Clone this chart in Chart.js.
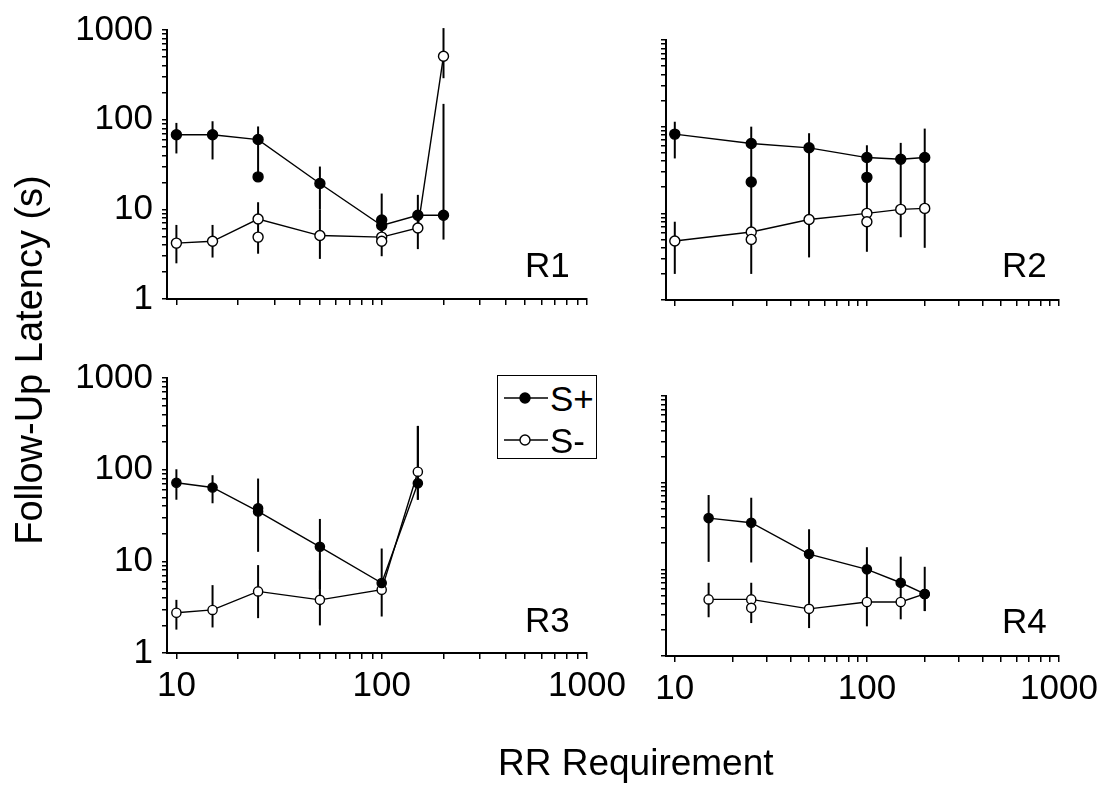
<!DOCTYPE html>
<html><head><meta charset="utf-8">
<script src="https://cdn.jsdelivr.net/npm/chart.js@4.4.1/dist/chart.umd.min.js"></script>
<style>
html,body{margin:0;padding:0;background:#fff;}
body{width:1106px;height:788px;position:relative;overflow:hidden;font-family:"Liberation Sans",Arial,sans-serif;color:#000;}
canvas.plot{position:absolute;left:0;top:0;}
.lbl{position:absolute;font-size:35px;line-height:35px;white-space:nowrap;}
#legend{position:absolute;left:497px;top:375px;width:100px;height:84px;border:1.5px solid #000;box-sizing:border-box;background:#fff;}
#legend .row{position:absolute;left:0;height:30px;width:100px;}
#legend svg{position:absolute;left:4px;top:0;}
#legend span{position:absolute;left:52px;top:-2px;font-size:35px;line-height:35px;}
</style></head><body>
<canvas class="plot" id="c1" width="1106" height="788"></canvas>
<canvas class="plot" id="c2" width="1106" height="788"></canvas>
<canvas class="plot" id="c3" width="1106" height="788"></canvas>
<canvas class="plot" id="c4" width="1106" height="788"></canvas>

<div class="lbl" style="left:525px;top:247px;">R1</div>
<div class="lbl" style="left:1002px;top:247px;">R2</div>
<div class="lbl" style="left:525px;top:602px;">R3</div>
<div class="lbl" style="left:1002px;top:603px;">R4</div>

<div id="legend">
  <div class="row" style="top:7px;"><svg width="48" height="30"><line x1="2" y1="15" x2="46" y2="15" stroke="#000" stroke-width="1.5"/><circle cx="23" cy="15" r="5" fill="#000" stroke="#000" stroke-width="1.4"/></svg><span>S+</span></div>
  <div class="row" style="top:49px;"><svg width="48" height="30"><line x1="2" y1="15" x2="46" y2="15" stroke="#000" stroke-width="1.5"/><circle cx="23" cy="15" r="5" fill="#fff" stroke="#000" stroke-width="1.4"/></svg><span>S-</span></div>
</div>

<div class="lbl" style="left:-171px;top:338px;width:400px;height:44px;line-height:44px;font-size:38px;text-align:center;transform:rotate(-90deg);">Follow-Up Latency (s)</div>
<div class="lbl" style="left:498px;top:744px;font-size:37px;line-height:37px;">RR Requirement</div>

<script>
// ---------- axis ticks ----------
const xTickValues = [10,20,30,40,50,60,70,80,90,100,200,300,400,500,600,700,800,900,1000];
const yTickValues = [1,2,3,4,5,6,7,8,9,10,20,30,40,50,60,70,80,90,100,200,300,400,500,600,700,800,900,1000];
const xTickLabels = [10,100,1000];
const yTickLabels = [1,10,100,1000];

// ---------- R1 ----------
const r1X    = [10,15,25,50,100,150,200];
const r1SpY  = [68,68,60,19.4,6.6,8.6,8.6];
const r1SpLo = [42,36,23,10,4.5,6,4.6];
const r1SpHi = [92,96,84,30,15,14.5,150];
const r1SmY  = [4.2,4.4,7.8,5.1,4.9,6.2,510];
const r1SmLo = [2.5,2.9,3.2,2.8,3.0,3.6,290];
const r1SmHi = [6.7,6.7,12,10,7,9,1050];
const r1SpExX = [25,100];
const r1SpExY = [23,7.6];
const r1SmExX = [25,100];
const r1SmExY = [4.9,4.4];

// ---------- R2 ----------
const r2X    = [10,25,50,100,150,200];
const r2SpY  = [82,64,57,44,42,44];
const r2SpLo = [43,23,30,26,11,11];
const r2SpHi = [114,100,84,61,65,95];
const r2SmY  = [4.8,6.1,8.5,10,11.1,11.4];
const r2SmLo = [2.0,2.0,3.1,3.6,5.3,4.0];
const r2SmHi = [8,23,30,26,11,11.4];
const r2SpExX = [25,100];
const r2SpExY = [23,26];
const r2SmExX = [25,100];
const r2SmExY = [5.0,8.0];

// ---------- R3 ----------
const r3X    = [10,15,25,50,100,150];
const r3SpY  = [72,64,35,14.4,5.8,71];
const r3SpLo = [47,43,12.7,5,4.9,47];
const r3SpHi = [101,87,80,29,13.8,300];
const r3SmY  = [2.75,2.95,4.7,3.8,4.9,95];
const r3SmLo = [1.8,1.9,2.4,2.0,2.5,47];
const r3SmHi = [3.8,5.5,9.1,8,5.8,300];
const r3SpExX = [25];
const r3SpExY = [38];
const r3SmExX = [];
const r3SmExY = [];

// ---------- R4 ----------
const r4X    = [15,25,50,100,150,200];
const r4SpY  = [39,34.5,15,10,7.0,5.2];
const r4SpLo = [12.2,12,4,4.2,4.2,3.3];
const r4SpHi = [72,67,29,18,14,10.7];
const r4SmY  = [4.5,4.5,3.5,4.2,4.2,5.2];
const r4SmLo = [2.8,2.4,2.1,2.2,2.65,3.3];
const r4SmHi = [7,7,4,4.2,4.2,5.2];
const r4SpExX = [];
const r4SpExY = [];
const r4SmExX = [25];
const r4SmExY = [3.6];

// ---------- rendering ----------
const FONT = '"Liberation Sans", Arial, sans-serif';
const W = 1106, H = 788, Y_W = 120, X_H = 60;

const errorBarPlugin = {
  id: 'errorBars',
  beforeDatasetsDraw(chart) {
    const {ctx} = chart;
    const xs = chart.scales.x, ys = chart.scales.y;
    ctx.save();
    ctx.strokeStyle = '#000';
    ctx.lineWidth = 2;
    chart.data.datasets.forEach(ds => {
      if (!ds.errLo) return;
      ds.data.forEach((p, j) => {
        const px = xs.getPixelForValue(p.x);
        ctx.beginPath();
        ctx.moveTo(px, ys.getPixelForValue(ds.errLo[j]));
        ctx.lineTo(px, ys.getPixelForValue(ds.errHi[j]));
        ctx.stroke();
      });
    });
    ctx.restore();
  }
};

function series(xs, ys, filled, r, showLine, lo, hi) {
  const d = {
    data: xs.map((x, i) => ({x: x, y: ys[i]})),
    borderColor: '#000', borderWidth: 1.4,
    pointRadius: r, pointBorderWidth: 1.4,
    pointBackgroundColor: filled ? '#000' : '#fff',
    pointBorderColor: '#000',
    showLine: showLine, tension: 0, clip: false, fill: false
  };
  if (lo) { d.errLo = lo; d.errHi = hi; }
  return d;
}

function makePanel(id, area, showY, showX, r, s) {
  const tickFont = {family: FONT, size: 35};
  new Chart(document.getElementById(id), {
    type: 'line',
    data: {datasets: [
      series(s.spExX, s.spExY, true, r, false),
      series(s.smExX, s.smExY, false, r, false),
      series(s.x, s.spY, true, r, true, s.spLo, s.spHi),
      series(s.x, s.smY, false, r, true, s.smLo, s.smHi)
    ]},
    options: {
      responsive: false, animation: false, devicePixelRatio: 1, events: [],
      layout: {padding: {left: area.l - Y_W, top: area.t, right: W - area.r, bottom: H - area.b - X_H}},
      plugins: {legend: {display: false}, tooltip: {enabled: false}},
      scales: {
        x: {
          type: 'logarithmic', position: 'bottom', min: 9, max: 1000,
          afterBuildTicks: sc => { sc.ticks = xTickValues.map(v => ({value: v})); },
          afterFit: sc => { sc.height = X_H; },
          ticks: {display: showX, autoSkip: false, maxRotation: 0, minRotation: 0, padding: 6,
                  color: '#000', font: tickFont,
                  callback: v => xTickLabels.includes(v) ? String(v) : ''},
          grid: {display: true, drawOnChartArea: false, drawTicks: true, tickLength: 6, color: '#000', lineWidth: 1.5},
          border: {display: true, color: '#000', width: 2}
        },
        y: {
          type: 'logarithmic', position: 'left', min: 1, max: 1000,
          afterBuildTicks: sc => { sc.ticks = yTickValues.map(v => ({value: v})); },
          afterFit: sc => { sc.width = Y_W; },
          ticks: {display: showY, autoSkip: false, padding: 9, color: '#000', font: tickFont,
                  callback: v => yTickLabels.includes(v) ? String(v) : ''},
          grid: {display: true, drawOnChartArea: false, drawTicks: true, tickLength: 5, color: '#000', lineWidth: 1.5},
          border: {display: true, color: '#000', width: 2}
        }
      }
    },
    plugins: [errorBarPlugin]
  });
}

makePanel('c1', {l:167, t:24, r:587, b:299}, true, false, 5,
  {x:r1X, spY:r1SpY, spLo:r1SpLo, spHi:r1SpHi, smY:r1SmY, smLo:r1SmLo, smHi:r1SmHi,
   spExX:r1SpExX, spExY:r1SpExY, smExX:r1SmExX, smExY:r1SmExY});
makePanel('c2', {l:666, t:40, r:1059, b:300}, false, false, 5,
  {x:r2X, spY:r2SpY, spLo:r2SpLo, spHi:r2SpHi, smY:r2SmY, smLo:r2SmLo, smHi:r2SmHi,
   spExX:r2SpExX, spExY:r2SpExY, smExX:r2SmExX, smExY:r2SmExY});
makePanel('c3', {l:167, t:378, r:587, b:653}, true, true, 4.6,
  {x:r3X, spY:r3SpY, spLo:r3SpLo, spHi:r3SpHi, smY:r3SmY, smLo:r3SmLo, smHi:r3SmHi,
   spExX:r3SpExX, spExY:r3SpExY, smExX:r3SmExX, smExY:r3SmExY});
makePanel('c4', {l:666, t:396, r:1059, b:656}, false, true, 4.6,
  {x:r4X, spY:r4SpY, spLo:r4SpLo, spHi:r4SpHi, smY:r4SmY, smLo:r4SmLo, smHi:r4SmHi,
   spExX:r4SpExX, spExY:r4SpExY, smExX:r4SmExX, smExY:r4SmExY});
</script>
</body></html>
